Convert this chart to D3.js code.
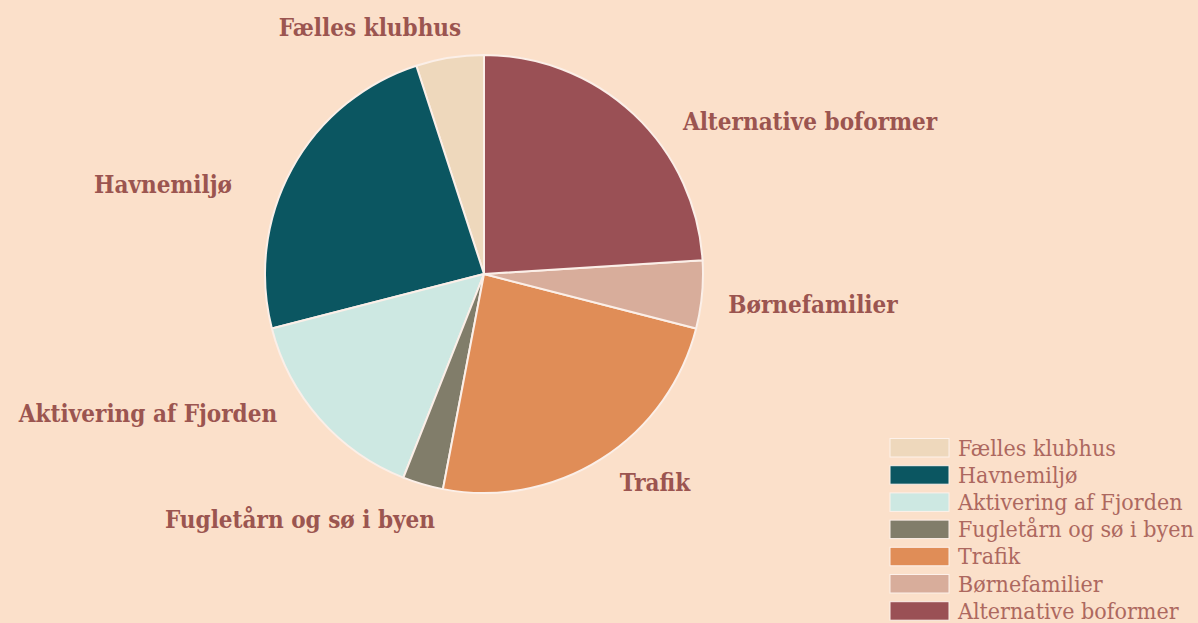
<!DOCTYPE html>
<html><head><meta charset="utf-8">
<script src="https://cdn.jsdelivr.net/npm/d3@7"></script>
<style>
html,body{margin:0;padding:0;background:#FBE0CA;}
svg{display:block;}
</style></head>
<body>
<svg id="chart" width="1198" height="623"></svg>
<script>
const categories = ["Fælles klubhus","Havnemiljø","Aktivering af Fjorden","Fugletårn og sø i byen","Trafik","Børnefamilier","Alternative boformer"];
const values = [5, 24, 15, 3, 24, 5, 24];
const colors = ["#EED8BC","#0B5661","#CDE8E2","#817D6A","#E08D57","#D8AD9B","#9A5055"];
// label anchor positions (layout)
const labelPos = [[370,36,"middle"],[163,193,"middle"],[148,422,"middle"],[300,528,"middle"],[655,491,"middle"],[813,313,"middle"],[810,130,"middle"]];

const svg = d3.select("#chart");
const cx = 484, cy = 274, R = 219;
const data = categories.map((c,i)=>({cat:c,value:values[i],color:colors[i]}));
const pie = d3.pie().value(d=>d.value).sort(null).startAngle(0).endAngle(-2*Math.PI);
const arc = d3.arc().innerRadius(0).outerRadius(R);
const g = svg.append("g").attr("transform",`translate(${cx},${cy})`);
g.selectAll("path").data(pie(data)).join("path")
  .attr("d",arc).attr("fill",d=>d.data.color)
  .attr("stroke","#FBEFE8").attr("stroke-width",2).attr("stroke-linejoin","round");

svg.selectAll("text.lbl").data(data).join("text").attr("class","lbl")
  .attr("x",(d,i)=>labelPos[i][0]).attr("y",(d,i)=>labelPos[i][1])
  .attr("text-anchor",(d,i)=>labelPos[i][2])
  .attr("font-family","'DejaVu Serif Condensed', 'DejaVu Serif', serif").attr("font-weight","bold")
  .attr("font-size",24).attr("fill","#9B5550").text(d=>d.cat);

const lg = svg.append("g");
const rowH = 27.2;
const items = lg.selectAll("g").data(data).join("g")
  .attr("transform",(d,i)=>`translate(890,${438.5+i*rowH})`);
items.append("rect").attr("width",59).attr("height",18.5).attr("fill",d=>d.color)
  .attr("stroke","#FDF1EA").attr("stroke-width",1);
items.append("text").attr("x",68).attr("y",17)
  .attr("font-family","'DejaVu Serif Condensed', 'DejaVu Serif', serif").attr("font-size",23)
  .attr("fill","#AD685F").text(d=>d.cat);
</script>
</body></html>
